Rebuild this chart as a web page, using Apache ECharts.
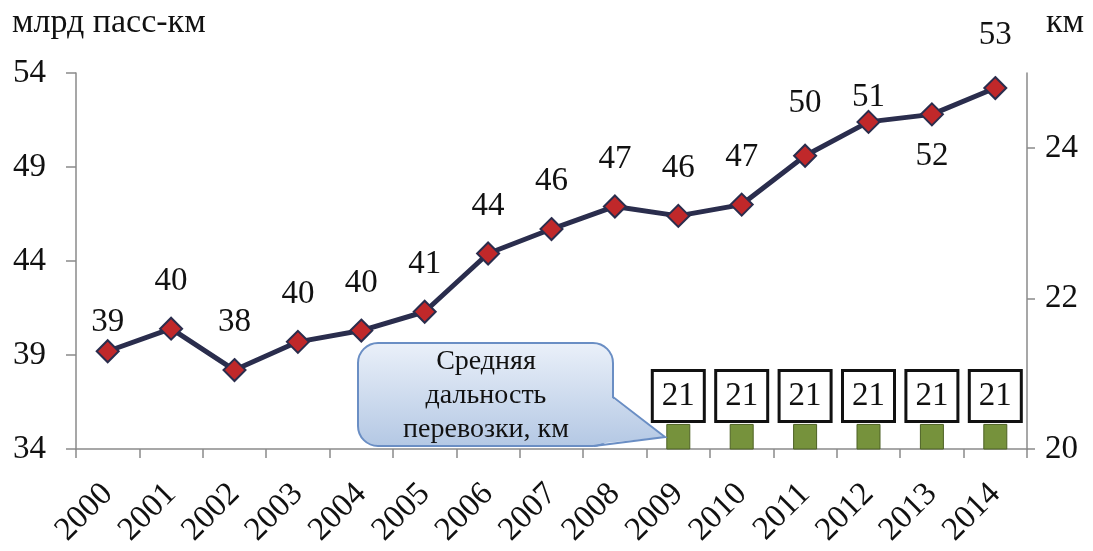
<!DOCTYPE html>
<html>
<head>
<meta charset="utf-8">
<script src="https://cdn.jsdelivr.net/npm/echarts@6/dist/echarts.min.js"></script>
<style>
  html, body { margin: 0; padding: 0; background: #fff; }
  #chart { width: 1093px; height: 551px; }
</style>
</head>
<body>
<div id="chart"></div>
<script>
// Данные
const years = ['2000', '2001', '2002', '2003', '2004', '2005', '2006', '2007',
  '2008', '2009', '2010', '2011', '2012', '2013', '2014'];
// Пассажирооборот, млрд пасс-км
const turnover = [39.2, 40.4, 38.2, 39.7, 40.3, 41.3, 44.4, 45.7,
  46.9, 46.4, 47.0, 49.6, 51.4, 51.8, 53.2];
// Средняя дальность перевозки, км
const avgDistance = [null, null, null, null, null, null, null, null,
  null, 21, 21, 21, 21, 21, 21];
const leftTicks = [34, 39, 44, 49, 54];
const rightTicks = [20, 22, 24];

const serif = '"Liberation Serif", "DejaVu Serif", serif';
const axisColor = '#8a8a8a';

// Подписи точек: отдельные сдвиги
const labelTweaks = {
  0: {distance: 0},
  11: {distance: 24},
  12: {distance: -4},
  13: {position: 'bottom', distance: 13},
  14: {distance: 24}
};

// заливка выноски (глобальные координаты)
const calloutFill = () => new echarts.graphic.LinearGradient(0, 343, 0, 446, [
  {offset: 0, color: '#eaf0f9'},
  {offset: 1, color: '#b4c8e4'}
], true);

const chart = echarts.init(document.getElementById('chart'));

const option = {
  animation: false,
  textStyle: {fontFamily: serif},
  graphic: [
    {
      type: 'text', left: 12, top: 6,
      style: {text: 'млрд пасс-км', font: '34px ' + serif, fill: '#111'}
    },
    {
      type: 'text', left: 1046, top: 6,
      style: {text: 'км', font: '34px ' + serif, fill: '#111'}
    },
    // выноска
    {
      type: 'rect', z: 50,
      shape: {x: 358, y: 343, width: 255, height: 103, r: 20},
      style: {fill: calloutFill(), stroke: '#6a8ec4', lineWidth: 2}
    },
    {
      type: 'polygon', z: 51,
      shape: {points: [[611, 397], [665, 437], [595, 444]]},
      style: {fill: calloutFill()}
    },
    {
      type: 'polyline', z: 52,
      shape: {points: [[613, 397], [665, 437], [594, 446]]},
      style: {fill: null, stroke: '#6a8ec4', lineWidth: 2}
    },
    {
      type: 'text', z: 53, x: 486, y: 345,
      style: {
        text: 'Средняя\nдальность\nперевозки, км',
        font: '28px ' + serif,
        lineHeight: 34,
        align: 'center',
        fill: '#111'
      }
    }
  ],
  grid: {left: 76, right: 66, top: 73, bottom: 102},
  xAxis: {
    type: 'category',
    data: years,
    axisLine: {lineStyle: {color: axisColor, width: 1.5}},
    axisTick: {show: true, length: 9, lineStyle: {color: axisColor, width: 1.5}},
    axisLabel: {
      rotate: 45,
      margin: 40,
      color: '#111',
      fontSize: 33,
      fontFamily: serif
    },
    splitLine: {show: false}
  },
  yAxis: [
    {
      type: 'value',
      min: 34,
      max: 54,
      axisLine: {show: true, lineStyle: {color: axisColor, width: 1.5}},
      axisTick: {show: true, length: 10, customValues: leftTicks, lineStyle: {color: axisColor, width: 1.5}},
      axisLabel: {customValues: leftTicks, margin: 30, color: '#111', fontSize: 33, fontFamily: serif},
      splitLine: {show: false}
    },
    {
      type: 'value',
      min: 20,
      max: 25,
      position: 'right',
      axisLine: {show: true, lineStyle: {color: axisColor, width: 1.5}},
      axisTick: {show: true, length: 8, customValues: rightTicks, lineStyle: {color: axisColor, width: 1.5}},
      axisLabel: {customValues: rightTicks, margin: 18, color: '#111', fontSize: 33, fontFamily: serif},
      splitLine: {show: false}
    },
    // скрытая ось для столбиков дальности
    {
      type: 'value',
      min: 20.7,
      max: 25.2,
      show: false,
      splitLine: {show: false}
    }
  ],
  series: [
    {
      name: 'Средняя дальность',
      type: 'bar',
      yAxisIndex: 2,
      barWidth: 24,
      data: avgDistance,
      itemStyle: {color: '#76923c', borderColor: '#4d6124', borderWidth: 1},
      label: {
        show: true,
        position: 'top',
        distance: 4,
        formatter: '{c}',
        color: '#111',
        fontSize: 33,
        fontFamily: serif,
        backgroundColor: '#fff',
        borderColor: '#111',
        borderWidth: 3,
        padding: [8, 8, 7, 8]
      },
      z: 3
    },
    {
      name: 'Пассажирооборот',
      type: 'line',
      yAxisIndex: 0,
      data: turnover.map((v, i) => {
        const item = {value: v};
        if (labelTweaks[i]) item.label = labelTweaks[i];
        return item;
      }),
      symbol: 'diamond',
      symbolSize: 22,
      lineStyle: {color: '#2a2d4d', width: 5},
      itemStyle: {color: '#c0282a', borderColor: '#2a2d4d', borderWidth: 2},
      label: {
        show: true,
        position: 'top',
        distance: 19,
        formatter: p => Math.round(p.value),
        color: '#111',
        fontSize: 33,
        fontFamily: serif
      },
      z: 5
    }
  ]
};

chart.setOption(option);
</script>
</body>
</html>
